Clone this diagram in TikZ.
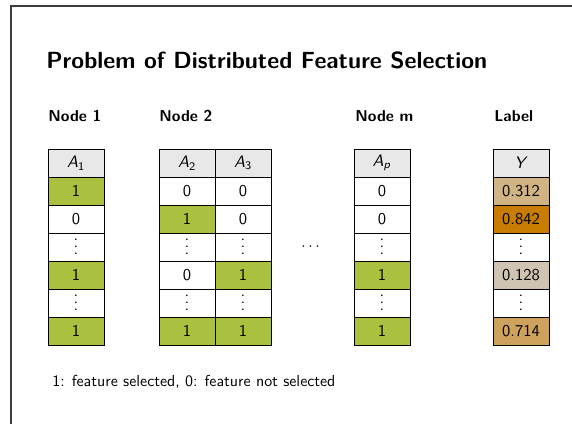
\documentclass[tikz,border=0pt]{standalone}
\usepackage{amsmath,amssymb}
\usepackage{xcolor}
\usetikzlibrary{positioning}
\definecolor{selgreen}{RGB}{170,193,64}
\definecolor{headgray}{RGB}{232,232,232}
\definecolor{ylow}{RGB}{208,180,132}
\definecolor{yhigh}{RGB}{200,124,0}
\definecolor{ypale}{RGB}{207,196,178}
\definecolor{ymid}{RGB}{205,162,92}
\definecolor{framegray}{RGB}{60,60,60}
\newcommand{\attr}[2]{\textsl{#1}\textsubscript{#2}}
\newcommand{\rowdots}{\vbox{\baselineskip4.4pt\lineskiplimit0pt\hbox{.}\hbox{.}\hbox{.}}}

\begin{document}
\begin{tikzpicture}[x=0.634pt, y=-0.634pt,
    cell/.style={draw=black, line width=0.5pt, fill=white,
      minimum width=35.5pt, minimum height=17.75pt, inner sep=0pt,
      font=\sffamily\fontsize{10.5}{12}\selectfont},
    sel/.style={cell, fill=selgreen},
    hdr/.style={cell, fill=headgray},
    colhead/.style={anchor=west, inner sep=0pt,
      font=\sffamily\bfseries\fontsize{10}{12}\selectfont}]
  \useasboundingbox (0,0) rectangle (572,424);
  \draw[framegray, line width=1pt] (11,424) -- (11,6) -- (572,6);
  \node[anchor=west, inner sep=0pt, font=\sffamily\bfseries\fontsize{14.8}{17}\selectfont] (title) at (46,60)
    {Problem of Distributed Feature Selection};
  % column titles
  \node[colhead] (node1) at (48,116) {Node 1};
  \node[colhead] (node2) at (159,116) {Node 2};
  \node[colhead] (nodem) at (355,116) {Node m};
  \node[colhead] (label) at (494,116) {Label};
  % attribute columns
  \node[hdr] (a1-0) at (76,163) {\attr{A}{1}};
  \foreach \v/\s [count=\r] in {1/sel,0/cell,\rowdots/cell,1/sel,\rowdots/cell,1/sel}
    \node[\s] (a1-\r) at (76,{163+28*\r}) {\v};
  \node[hdr] (a2-0) at (187,163) {\attr{A}{2}};
  \foreach \v/\s [count=\r] in {0/cell,1/sel,\rowdots/cell,0/cell,\rowdots/cell,1/sel}
    \node[\s] (a2-\r) at (187,{163+28*\r}) {\v};
  \node[hdr] (a3-0) at (243,163) {\attr{A}{3}};
  \foreach \v/\s [count=\r] in {0/cell,0/cell,\rowdots/cell,1/sel,\rowdots/cell,1/sel}
    \node[\s] (a3-\r) at (243,{163+28*\r}) {\v};
  \node[font=\sffamily] (gap) at (312,247) {$\cdots$};
  \node[hdr] (ap-0) at (382,163) {\attr{A}{\textsl{p}}};
  \foreach \v/\s [count=\r] in {0/cell,0/cell,\rowdots/cell,1/sel,\rowdots/cell,1/sel}
    \node[\s] (ap-\r) at (382,{163+28*\r}) {\v};
  % label column
  \node[hdr] (y-0) at (521,163) {\textsl{Y}};
  \foreach \v/\c [count=\r] in {0.312/ylow,0.842/yhigh,\rowdots/white,0.128/ypale,\rowdots/white,0.714/ymid}
    \node[cell, fill=\c] (y-\r) at (521,{163+28*\r}) {\v};
  \node[anchor=west, inner sep=0pt, font=\sffamily\fontsize{10.1}{12}\selectfont] (note) at (52,382)
    {1: feature selected, 0: feature not selected};
\end{tikzpicture}
\end{document}
